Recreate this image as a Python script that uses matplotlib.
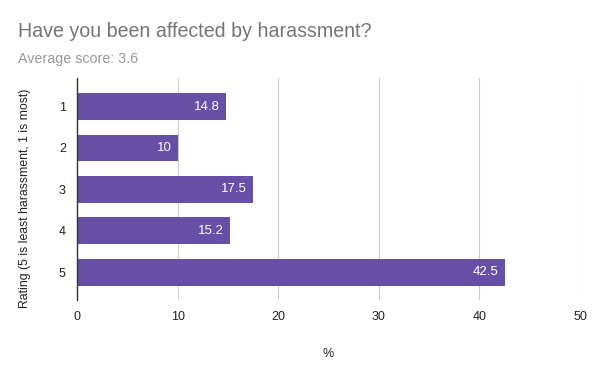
import matplotlib
matplotlib.use("Agg")
import matplotlib.pyplot as plt

categories = ["1", "2", "3", "4", "5"]
values = [14.8, 10, 17.5, 15.2, 42.5]
value_labels = ["14.8", "10", "17.5", "15.2", "42.5"]
xticks = [0, 10, 20, 30, 40, 50]

plt.rcParams['font.family'] = ['Liberation Sans', 'DejaVu Sans']

fig = plt.figure(figsize=(6, 3.71), dpi=100)
ax = fig.add_axes([77/600, 1-300/371, (580-77)/600, (300-78)/371])

pos = list(range(1, len(categories)+1))
ax.barh(pos, values, height=0.65, color="#674ea7", zorder=3)
for p, v, lab in zip(pos, values, value_labels):
    ax.text(v - 0.6, p, lab, color="white", ha="right", va="center", fontsize=9.5, zorder=4)

ax.set_ylim(5.67, 0.31)
ax.set_xlim(0, 50)
ax.set_yticks(pos)
ax.set_yticklabels(categories)
ax.set_xticks(xticks)
ax.set_xticklabels([str(t) for t in xticks])
ax.tick_params(axis="both", length=0, labelsize=9, colors="#222222")
ax.tick_params(axis="y", pad=8)
ax.tick_params(axis="x", pad=8)
ax.grid(axis="x", color="#cccccc", linewidth=0.8, zorder=0)
for s in ["top", "right", "bottom"]:
    ax.spines[s].set_visible(False)
ax.spines["left"].set_color("#333333")
ax.spines["left"].set_linewidth(1)
ax.spines["left"].set_zorder(5)

ax.set_xlabel("%", fontsize=9, color="#222222", labelpad=18)
ax.set_ylabel("Rating (5 is least harassment, 1 is most)", fontsize=8.8, color="#222222",
              va="center", ha="center")
ax.yaxis.set_label_coords(-0.103, 0.459)

fig.text(18/600, 1-37/371, "Have you been affected by harassment?", fontsize=14.1, color="#757575", ha="left", va="baseline")
fig.text(18/600, 1-63/371, "Average score: 3.6", fontsize=10.3, color="#999999", ha="left", va="baseline")

fig.savefig("out.png", dpi=100)
